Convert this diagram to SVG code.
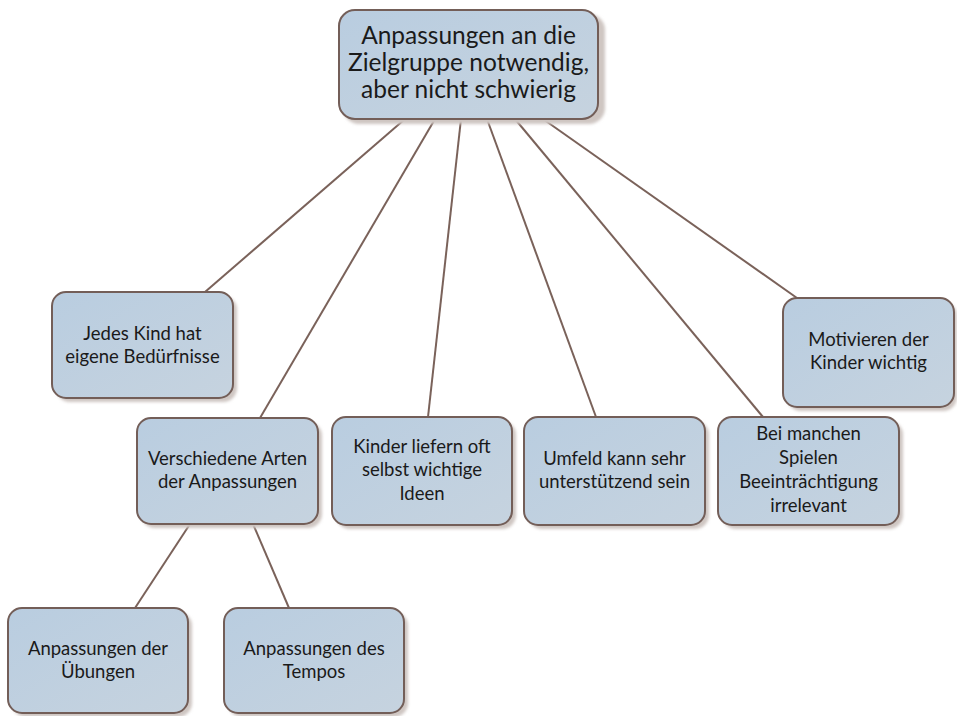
<svg xmlns="http://www.w3.org/2000/svg" width="957" height="716" viewBox="0 0 957 716">
<defs>
<linearGradient id="g" x1="0" y1="0" x2="1" y2="1">
<stop offset="0" stop-color="#b9cde0"/>
<stop offset="1" stop-color="#c6d3df"/>
</linearGradient>
<filter id="sh" x="-10%" y="-10%" width="130%" height="130%">
<feGaussianBlur stdDeviation="1.5"/>
</filter>
</defs>
<style>
.box{fill:url(#g);stroke:#735e58;stroke-width:2}
.shadow{fill:#cfc6c2;filter:url(#sh)}
.t{font-family:Lato,"Open Sans",sans-serif;font-size:18.5px;fill:#1a1a1a;text-anchor:middle}
.big{font-size:24.5px}
.c{stroke:#7a625a;stroke-width:2;fill:none}
</style>
<rect width="957" height="716" fill="#ffffff"/>
<g id="connectors">
<line class="c" x1="405" y1="119" x2="205" y2="292"/>
<line class="c" x1="435" y1="119" x2="260" y2="418"/>
<line class="c" x1="461" y1="119" x2="428" y2="417"/>
<line class="c" x1="487" y1="119" x2="596" y2="417"/>
<line class="c" x1="515" y1="119" x2="763" y2="417"/>
<line class="c" x1="543" y1="119" x2="797" y2="298"/>
<line class="c" x1="190" y1="524" x2="135" y2="608"/>
<line class="c" x1="253" y1="524" x2="289" y2="608"/>
</g>
<g id="root">
<rect class="shadow" x="343" y="14" width="262" height="110" rx="16"/>
<rect class="box" x="339" y="10" width="259" height="109" rx="16"/>
<text class="t big" x="468.5" y="44">Anpassungen an die</text>
<text class="t big" x="468.5" y="71">Zielgruppe notwendig,</text>
<text class="t big" x="468.5" y="98">aber nicht schwierig</text>
</g>
<g id="n1">
<rect class="shadow" x="56" y="296" width="181" height="106" rx="14"/>
<rect class="box" x="52" y="292" width="181" height="106" rx="14"/>
<text class="t" x="142.5" y="340">Jedes Kind hat</text>
<text class="t" x="142.5" y="363">eigene Bedürfnisse</text>
</g>
<g id="n2">
<rect class="shadow" x="141" y="422" width="181" height="106" rx="14"/>
<rect class="box" x="137" y="418" width="181" height="106" rx="14"/>
<text class="t" x="227.5" y="465">Verschiedene Arten</text>
<text class="t" x="227.5" y="488">der Anpassungen</text>
</g>
<g id="n3">
<rect class="shadow" x="336" y="421" width="180" height="108" rx="14"/>
<rect class="box" x="332" y="417" width="180" height="108" rx="14"/>
<text class="t" x="422" y="453">Kinder liefern oft</text>
<text class="t" x="422" y="476">selbst wichtige</text>
<text class="t" x="422" y="500">Ideen</text>
</g>
<g id="n4">
<rect class="shadow" x="528" y="421" width="181" height="108" rx="14"/>
<rect class="box" x="524" y="417" width="181" height="108" rx="14"/>
<text class="t" x="614.5" y="465">Umfeld kann sehr</text>
<text class="t" x="614.5" y="488">unterstützend sein</text>
</g>
<g id="n5">
<rect class="shadow" x="722" y="421" width="181" height="108" rx="14"/>
<rect class="box" x="718" y="417" width="181" height="108" rx="14"/>
<text class="t" x="808.5" y="440">Bei manchen</text>
<text class="t" x="808.5" y="464">Spielen</text>
<text class="t" x="808.5" y="488">Beeinträchtigung</text>
<text class="t" x="808.5" y="512">irrelevant</text>
</g>
<g id="n6">
<rect class="shadow" x="787" y="302" width="170" height="109" rx="14"/>
<rect class="box" x="783" y="298" width="171" height="109" rx="14"/>
<text class="t" x="868.5" y="346">Motivieren der</text>
<text class="t" x="868.5" y="369">Kinder wichtig</text>
</g>
<g id="n7">
<rect class="shadow" x="12" y="612" width="180" height="105" rx="14"/>
<rect class="box" x="8" y="608" width="180" height="105" rx="14"/>
<text class="t" x="98" y="655">Anpassungen der</text>
<text class="t" x="98" y="678">Übungen</text>
</g>
<g id="n8">
<rect class="shadow" x="228" y="612" width="180" height="105" rx="14"/>
<rect class="box" x="224" y="608" width="180" height="105" rx="14"/>
<text class="t" x="314" y="655">Anpassungen des</text>
<text class="t" x="314" y="678">Tempos</text>
</g>
</svg>
